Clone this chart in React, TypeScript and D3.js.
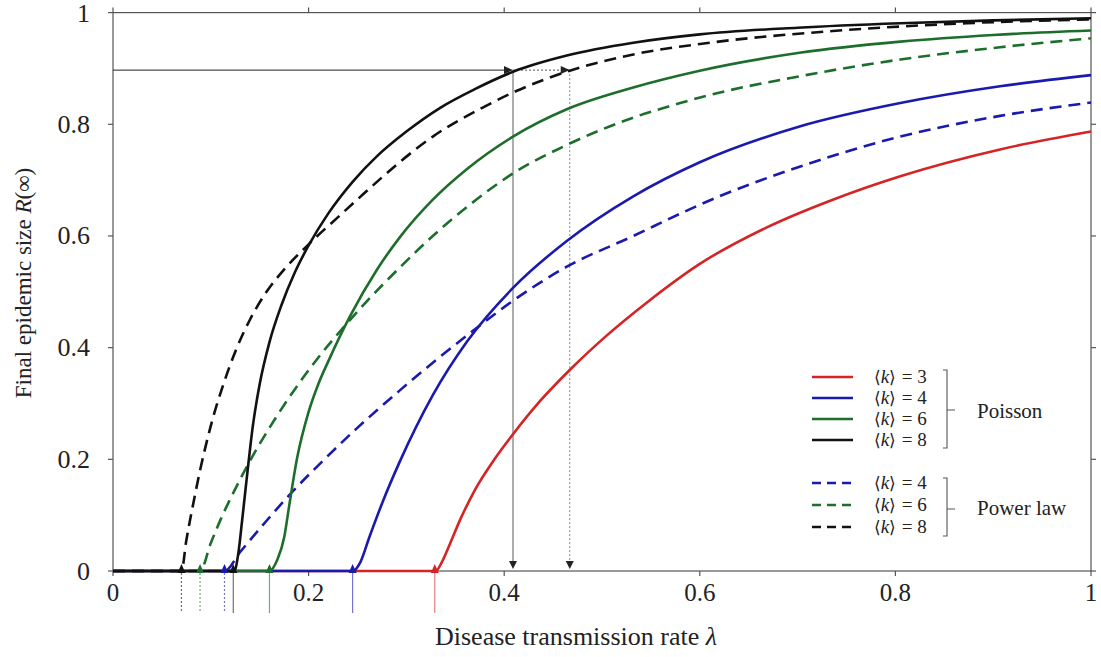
import React from 'react';
import * as d3 from 'd3';

// ---------- data ----------
const xTicks = [0, 0.2, 0.4, 0.6, 0.8, 1];
const yTicks = [0, 0.2, 0.4, 0.6, 0.8, 1];
const xTickLabels = ['0', '0.2', '0.4', '0.6', '0.8', '1'];
const yTickLabels = ['0', '0.2', '0.4', '0.6', '0.8', '1'];

// Poisson (solid)
const poissonK3: [number, number][] = [
  [0, 0], [0.33, 0], [0.336, 0.015], [0.342, 0.038], [0.355, 0.092], [0.37, 0.145], [0.39, 0.2],
  [0.409, 0.245], [0.437, 0.305], [0.467, 0.36], [0.505, 0.422], [0.546, 0.481], [0.6, 0.55],
  [0.668, 0.615], [0.736, 0.665], [0.805, 0.707], [0.907, 0.755], [1, 0.787],
];
const poissonK4: [number, number][] = [
  [0, 0], [0.245, 0], [0.253, 0.016], [0.262, 0.06], [0.276, 0.125], [0.293, 0.195], [0.327, 0.315],
  [0.362, 0.411], [0.409, 0.507], [0.464, 0.591], [0.532, 0.671], [0.6, 0.732],
  [0.702, 0.796], [0.805, 0.838], [0.907, 0.868], [1, 0.888],
];
const poissonK6: [number, number][] = [
  [0, 0], [0.16, 0], [0.168, 0.02], [0.175, 0.06], [0.18, 0.115], [0.188, 0.2], [0.2, 0.285],
  [0.21, 0.335], [0.22, 0.375], [0.242, 0.455], [0.27, 0.54], [0.293, 0.597], [0.327, 0.665],
  [0.362, 0.72], [0.409, 0.778], [0.464, 0.827], [0.532, 0.866], [0.6, 0.896], [0.702, 0.928],
  [0.805, 0.948], [0.9, 0.96], [1, 0.968],
];
const poissonK8: [number, number][] = [
  [0, 0], [0.124, 0], [0.128, 0.03], [0.132, 0.09], [0.137, 0.17], [0.143, 0.26], [0.15, 0.335],
  [0.16, 0.41], [0.172, 0.475], [0.186, 0.535], [0.2, 0.583], [0.22, 0.64], [0.245, 0.697],
  [0.27, 0.743], [0.3, 0.787], [0.335, 0.83], [0.37, 0.863], [0.409, 0.894], [0.464, 0.923],
  [0.532, 0.946], [0.6, 0.961], [0.7, 0.973], [0.805, 0.981], [0.9, 0.986], [1, 0.99],
];

// Power law (dashed)
const powerK4: [number, number][] = [
  [0, 0], [0.114, 0], [0.13, 0.034], [0.157, 0.09], [0.184, 0.143], [0.215, 0.198],
  [0.249, 0.255], [0.293, 0.323], [0.327, 0.373], [0.368, 0.43], [0.409, 0.484], [0.464, 0.545],
  [0.532, 0.6], [0.58, 0.64], [0.6, 0.656], [0.702, 0.724], [0.805, 0.778], [0.907, 0.815], [1, 0.839],
];
const powerK6: [number, number][] = [
  [0, 0], [0.089, 0], [0.1, 0.05], [0.11, 0.092], [0.123, 0.14], [0.14, 0.197], [0.157, 0.248],
  [0.181, 0.313], [0.208, 0.378], [0.235, 0.435], [0.259, 0.482], [0.293, 0.543], [0.327, 0.6],
  [0.362, 0.652], [0.409, 0.712], [0.464, 0.763], [0.532, 0.812], [0.58, 0.838], [0.607, 0.851],
  [0.702, 0.886], [0.805, 0.916], [0.907, 0.938], [1, 0.954],
];
const powerK8: [number, number][] = [
  [0, 0], [0.07, 0], [0.075, 0.055], [0.082, 0.12], [0.089, 0.18], [0.1, 0.26], [0.113, 0.335],
  [0.126, 0.397], [0.14, 0.45], [0.157, 0.5], [0.174, 0.538], [0.2, 0.585], [0.229, 0.632],
  [0.256, 0.675], [0.293, 0.732], [0.327, 0.778], [0.378, 0.83], [0.413, 0.86], [0.467, 0.896],
  [0.532, 0.925], [0.61, 0.946], [0.736, 0.967], [0.873, 0.981], [1, 0.988],
];

const poissonThresholds = [0.329, 0.245, 0.16, 0.123]; // k = 3, 4, 6, 8
const powerThresholds = [0.114, 0.089, 0.07]; // k = 4, 6, 8
const levelR = 0.897;
const levelLambdaPoisson = 0.409;
const levelLambdaPower = 0.467;

const poissonLabels = ['3', '4', '6', '8'];
const powerLabels = ['4', '6', '8'];

// ---------- styling ----------
const RED = '#d42424';
const BLUE = '#1a1aae';
const GREEN = '#1d6e2c';
const BLACK = '#111111';
const AXIS = '#555555';
const FONT = '"Liberation Serif", "Times New Roman", serif';

const poissonColors = [RED, BLUE, GREEN, BLACK];
const powerColors = [BLUE, GREEN, BLACK];
const poissonData = [poissonK3, poissonK4, poissonK6, poissonK8];
const powerData = [powerK4, powerK6, powerK8];

const W = 1101;
const H = 657;

export default function App() {
  const x = d3.scaleLinear().domain([0, 1]).range([113, 1091]);
  const y = d3.scaleLinear().domain([0, 1]).range([571, 12.6]);
  const line = d3
    .line<[number, number]>()
    .x((d) => x(d[0]))
    .y((d) => y(d[1]))
    .curve(d3.curveMonotoneX);

  const y0 = y(0);
  const yL = y(levelR);
  const xP = x(levelLambdaPoisson);
  const xPL = x(levelLambdaPower);

  const upArrow = (t: number, color: string, key: string) => (
    <path
      key={key}
      d={`M ${x(t)} ${y0 - 7} L ${x(t) - 4} ${y0 + 2} L ${x(t) + 4} ${y0 + 2} Z`}
      fill={color}
    />
  );

  const legendX1 = 812;
  const legendX2 = 853;
  const poissonRows = [377, 398, 419, 440];
  const powerRows = [483, 505, 527];

  const kLabel = (val: string, yy: number, key: string) => (
    <text key={key} x={874} y={yy + 6} fontFamily={FONT} fontSize={19} fill="#222">
      <tspan fontFamily='"DejaVu Serif", serif' fontSize={17}>⟨</tspan>
      <tspan fontStyle="italic">k</tspan>
      <tspan fontFamily='"DejaVu Serif", serif' fontSize={17}>⟩</tspan>
      <tspan dx={6}>= {val}</tspan>
    </text>
  );

  return (
    <svg
      width={W}
      height={H}
      style={{ position: 'absolute', left: 0, top: 0, background: '#fff' }}
      xmlns="http://www.w3.org/2000/svg"
    >
      <rect x={0} y={0} width={W} height={H} fill="#fff" />

      {/* frame */}
      <rect
        x={x(0)}
        y={y(1)}
        width={x(1) - x(0)}
        height={y(0) - y(1)}
        fill="none"
        stroke={AXIS}
        strokeWidth={1.2}
      />

      {/* ticks */}
      {xTicks.map((t) => (
        <g key={`xt${t}`}>
          <line x1={x(t)} x2={x(t)} y1={y(0)} y2={y(0) + 5} stroke={AXIS} strokeWidth={1.2} />
          <line x1={x(t)} x2={x(t)} y1={y(1)} y2={y(1) - 5} stroke={AXIS} strokeWidth={1.2} />
        </g>
      ))}
      {yTicks.map((t) => (
        <g key={`yt${t}`}>
          <line x1={x(0)} x2={x(0) - 5} y1={y(t)} y2={y(t)} stroke={AXIS} strokeWidth={1.2} />
          <line x1={x(1)} x2={x(1) + 5} y1={y(t)} y2={y(t)} stroke={AXIS} strokeWidth={1.2} />
        </g>
      ))}

      {/* tick labels */}
      {xTicks.map((t, i) => (
        <text
          key={`xl${t}`}
          x={x(t)}
          y={601}
          textAnchor="middle"
          fontFamily={FONT}
          fontSize={25}
          fill="#222"
        >
          {xTickLabels[i]}
        </text>
      ))}
      {yTicks.map((t, i) => (
        <text
          key={`yl${t}`}
          x={90}
          y={Math.max(y(t) + 8.5, 22)}
          textAnchor="end"
          fontFamily={FONT}
          fontSize={26}
          fill="#222"
        >
          {yTickLabels[i]}
        </text>
      ))}

      {/* axis titles */}
      <text x={576} y={645} textAnchor="middle" fontFamily={FONT} fontSize={26} fill="#222">
        Disease transmission rate <tspan fontStyle="italic">λ</tspan>
      </text>
      <text
        transform={`translate(31, 283) rotate(-90)`}
        textAnchor="middle"
        fontFamily={FONT}
        fontSize={23}
        fill="#222"
      >
        Final epidemic size <tspan fontStyle="italic">R</tspan>(∞)
      </text>

      {/* level reference lines */}
      <line x1={x(0)} x2={xP - 6} y1={yL} y2={yL} stroke="#222" strokeWidth={1} />
      <path d={`M ${xP} ${yL} L ${xP - 9} ${yL - 4} L ${xP - 9} ${yL + 4} Z`} fill="#222" />
      <line
        x1={xP}
        x2={xPL - 6}
        y1={yL}
        y2={yL}
        stroke="#555"
        strokeWidth={1}
        strokeDasharray="2 2"
      />
      <path d={`M ${xPL} ${yL} L ${xPL - 9} ${yL - 4} L ${xPL - 9} ${yL + 4} Z`} fill="#222" />
      <line x1={xP} x2={xP} y1={yL} y2={y0 - 8} stroke="#777" strokeWidth={1.2} />
      <path d={`M ${xP} ${y0 - 2} L ${xP - 4} ${y0 - 10} L ${xP + 4} ${y0 - 10} Z`} fill="#222" />
      <line
        x1={xPL}
        x2={xPL}
        y1={yL}
        y2={y0 - 8}
        stroke="#888"
        strokeWidth={1}
        strokeDasharray="2 2"
      />
      <path d={`M ${xPL} ${y0 - 2} L ${xPL - 4} ${y0 - 10} L ${xPL + 4} ${y0 - 10} Z`} fill="#222" />

      {/* threshold lines under the axis */}
      {powerThresholds.map((t, i) => (
        <line
          key={`ptl${i}`}
          x1={x(t)}
          x2={x(t)}
          y1={y0 + 2}
          y2={613}
          stroke={powerColors[i]}
          strokeOpacity={0.6}
          strokeWidth={1.2}
          strokeDasharray="2 2"
        />
      ))}
      {poissonThresholds.map((t, i) => (
        <line
          key={`ptp${i}`}
          x1={x(t)}
          x2={x(t)}
          y1={y0 + 2}
          y2={613}
          stroke={poissonColors[i]}
          strokeOpacity={0.6}
          strokeWidth={1.2}
        />
      ))}

      {/* curves */}
      {powerData.map((d, i) => (
        <path
          key={`pw${i}`}
          d={line(d) || ''}
          fill="none"
          stroke={powerColors[i]}
          strokeWidth={2.6}
          strokeDasharray="12 7"
        />
      ))}
      {poissonData.map((d, i) => (
        <path
          key={`po${i}`}
          d={line(d) || ''}
          fill="none"
          stroke={poissonColors[i]}
          strokeWidth={2.6}
        />
      ))}

      {/* threshold markers */}
      {powerThresholds.map((t, i) => upArrow(t, powerColors[i], `pa${i}`))}
      {poissonThresholds.map((t, i) => upArrow(t, poissonColors[i], `qa${i}`))}

      {/* legend */}
      {poissonRows.map((yy, i) => (
        <g key={`lp${i}`}>
          <line x1={legendX1} x2={legendX2} y1={yy} y2={yy} stroke={poissonColors[i]} strokeWidth={2.4} />
          {kLabel(poissonLabels[i], yy, `lpt${i}`)}
        </g>
      ))}
      {powerRows.map((yy, i) => (
        <g key={`lw${i}`}>
          <line
            x1={legendX1}
            x2={legendX2}
            y1={yy}
            y2={yy}
            stroke={powerColors[i]}
            strokeWidth={2.4}
            strokeDasharray="9 6"
          />
          {kLabel(powerLabels[i], yy, `lwt${i}`)}
        </g>
      ))}
      {/* brackets */}
      <path d="M 943 370 L 947 370 L 947 448 L 943 448 M 947 410 L 955 410" fill="none" stroke={AXIS} strokeWidth={1.1} />
      <path d="M 943 478 L 947 478 L 947 536 L 943 536 M 947 509 L 955 509" fill="none" stroke={AXIS} strokeWidth={1.1} />
      <text x={977} y={418} fontFamily={FONT} fontSize={21} fill="#222">
        Poisson
      </text>
      <text x={977} y={515} fontFamily={FONT} fontSize={21} fill="#222">
        Power law
      </text>
    </svg>
  );
}
